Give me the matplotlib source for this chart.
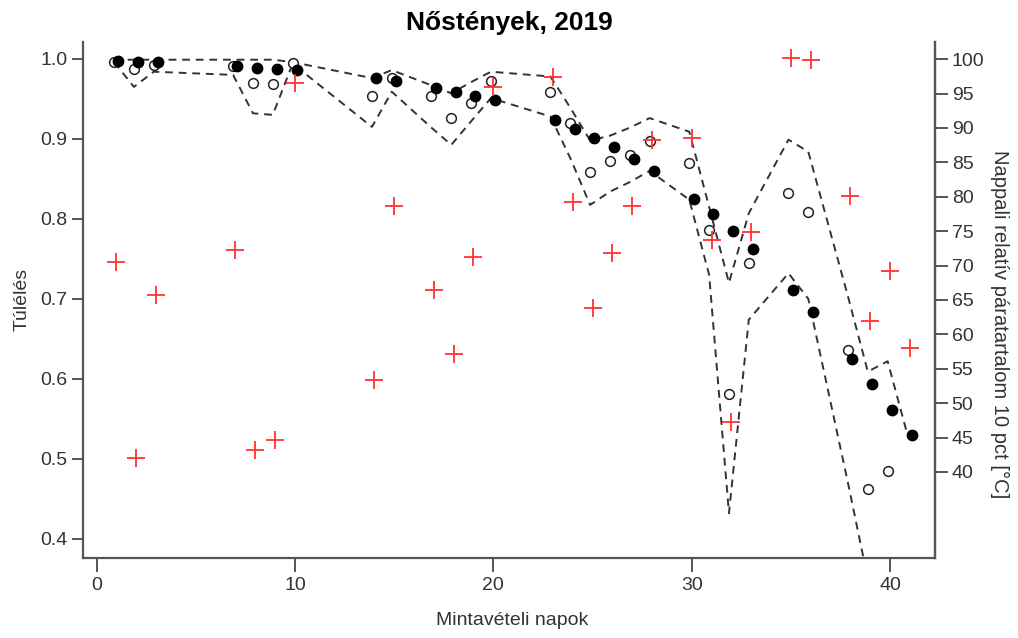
import matplotlib
matplotlib.use("Agg")
import matplotlib.pyplot as plt
import numpy as np

plt.rcParams['font.family'] = ['Liberation Sans', 'DejaVu Sans']

# Survival, filled points
days_filled = [1, 2, 3, 7, 8, 9, 10, 14, 15, 17, 18, 19, 20, 23, 24, 25, 26, 27, 28,
               30, 31, 32, 33, 35, 36, 38, 39, 40, 41]
surv_filled = [0.9975, 0.996, 0.996, 0.991, 0.989, 0.9875, 0.986, 0.976, 0.972, 0.964,
               0.959, 0.954, 0.948, 0.924, 0.912, 0.901, 0.890, 0.875, 0.860,
               0.825, 0.806, 0.785, 0.7625, 0.711, 0.683, 0.625, 0.594, 0.561, 0.530]

# Survival, open points
days_open = [1, 2, 3, 7, 8, 9, 10, 14, 15, 17, 18, 19, 20, 23, 24, 25, 26, 27, 28,
             30, 31, 32, 33, 35, 36, 38, 39, 40]
surv_open = [0.996, 0.9875, 0.993, 0.991, 0.970, 0.968, 0.995, 0.953, 0.976, 0.953,
             0.926, 0.945, 0.9725, 0.959, 0.920, 0.858, 0.872, 0.880, 0.897,
             0.870, 0.786, 0.581, 0.745, 0.832, 0.809, 0.636, 0.462, 0.485]

# dashed bounds
upper_days = days_open + [41]
upper = [0.999, 0.999, 0.999, 0.999, 0.999, 0.999, 0.996, 0.976, 0.986, 0.967,
         0.957, 0.971, 0.984, 0.978, 0.939, 0.898, 0.904, 0.914, 0.926,
         0.909, 0.815, 0.720, 0.807, 0.899, 0.884, 0.703, 0.609, 0.622, 0.530]
lower_days = days_open[:-1]
lower = [0.996, 0.965, 0.984, 0.980, 0.932, 0.930, 0.994, 0.915, 0.959, 0.914,
         0.8925, 0.922, 0.951, 0.928, 0.876, 0.8175, 0.834, 0.846, 0.860,
         0.824, 0.730, 0.432, 0.674, 0.732, 0.700, 0.470, 0.350]

# daytime relative humidity
hum_days = [1, 2, 3, 7, 8, 9, 10, 14, 15, 17, 18, 19, 20, 23, 24, 25, 26, 27, 28,
            30, 31, 32, 33, 35, 36, 38, 39, 40, 41]
humidity = [70.5, 42.0, 65.7, 72.3, 43.2, 44.7, 96.5, 53.3, 78.6, 66.5, 57.1, 71.2,
            95.9, 97.4, 79.3, 63.8, 71.8, 78.6, 88.2, 88.6, 73.7, 47.2, 74.9,
            100.2, 99.9, 80.1, 61.9, 69.2, 58.0]

xticks = [0, 10, 20, 30, 40]
yticks_left = [0.4, 0.5, 0.6, 0.7, 0.8, 0.9, 1.0]
yticks_right = list(range(40, 101, 5))

axis_col = '#555555'
text_col = '#333333'

fig = plt.figure(figsize=(10.18, 6.38), dpi=100)
ax = fig.add_axes([0.0815, 0.1254, 0.837, 0.8086])

off_open = -0.12
off_filled = 0.1

ax.plot(np.array(upper_days) + off_open, upper, ls=(0, (4, 3)), color='#333333', lw=1.4)
ax.plot(np.array(lower_days) + off_open, lower, ls=(0, (4, 3)), color='#333333', lw=1.4)
ax.plot(np.array(days_open) + off_open, surv_open, 'o', mfc='white', mec='#222222',
        mew=1.1, ms=7, ls='none')
ax.plot(np.array(days_filled) + off_filled, surv_filled, 'o', color='black', ms=7.5,
        ls='none')

ax.set_xlim(-0.69, 42.27)
ax.set_ylim(0.376, 1.021)
ax.set_xticks(xticks)
ax.set_yticks(yticks_left)
ax.set_yticklabels(['%.1f' % v for v in yticks_left])
ax.spines['top'].set_visible(False)
for s in ['left', 'bottom', 'right']:
    ax.spines[s].set_color(axis_col)
    ax.spines[s].set_linewidth(1.6)
ax.tick_params(axis='both', direction='out', length=8, width=1.4, color=axis_col,
               labelsize=14, labelcolor=text_col, pad=3)
ax.tick_params(axis='x', length=10, pad=4)

ax2 = ax.twinx()
ax2.plot(hum_days, humidity, '+', color='#ff3030', ms=13, mew=1.3, ls='none')
ax2.set_ylim(27.5, 102.47)
ax2.set_yticks(yticks_right)
for s in ['top', 'left', 'bottom']:
    ax2.spines[s].set_visible(False)
ax2.spines['right'].set_color(axis_col)
ax2.spines['right'].set_linewidth(1.6)
ax2.tick_params(axis='y', direction='out', length=9, width=1.4, color=axis_col,
                labelsize=14, labelcolor=text_col, pad=3)

fig.text(0.5, 0.964, 'Nőstények, 2019', ha='center', va='center', fontsize=19,
         fontweight='bold', color='black')
fig.text(0.503, 0.028, 'Mintavételi napok', ha='center', va='center', fontsize=14,
         color=text_col)
fig.text(0.022, 0.53, 'Túlélés', ha='center', va='center', rotation=90, fontsize=14,
         color=text_col)
fig.text(0.982, 0.492, 'Nappali relatív páratartalom 10 pct [°C]', ha='center',
         va='center', rotation=270, fontsize=14.5, color=text_col)

fig.savefig('out.png', dpi=100)
